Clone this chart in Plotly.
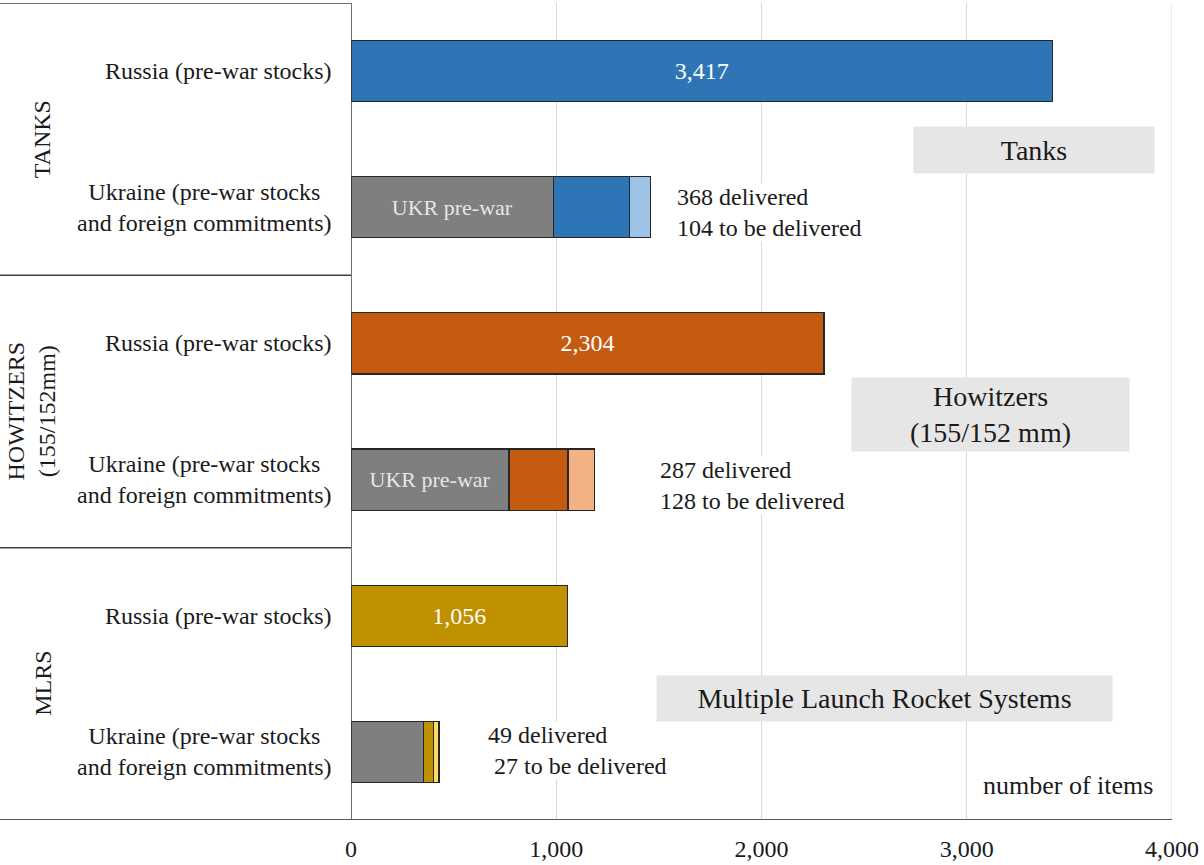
import plotly.graph_objects as go

# ---------------- data ----------------
groups = ["TANKS", "HOWITZERS<br>(155/152mm)", "MLRS"]
group_box_titles = ["Tanks", "Howitzers<br>(155/152 mm)", "Multiple Launch Rocket Systems"]
row_labels = ["Russia (pre-war stocks)", "Ukraine (pre-war stocks<br>and foreign commitments)"]
russia_stocks = [3417, 2304, 1056]
ukraine_prewar = [987, 770, 353]
ukraine_delivered = [368, 287, 49]
ukraine_pending = [104, 128, 27]
prewar_labels = ["UKR pre-war", "UKR pre-war", ""]
x_ticks = [0, 1000, 2000, 3000, 4000]
axis_title = "number of items"

# ---------------- style ----------------
FONT = "'Liberation Serif', 'Times New Roman', 'DejaVu Serif', serif"
TXT = "#1a1a1a"
main_colors = ["#2E75B6", "#C55A11", "#BF9000"]
light_colors = ["#9DC3E6", "#F4B183", "#FFD966"]
gray = "#7F7F7F"
outline = dict(color="#262626", width=1.2)

W, H = 1204, 865
ML, MR, MT, MB = 351, 32, 3, 43
plot_w = W - ML - MR
left_edge = -ML / plot_w

russia_rows = [2 * i for i in range(len(groups))]
ukraine_rows = [2 * i + 1 for i in range(len(groups))]

fig = go.Figure()

fig.add_trace(go.Bar(
    y=russia_rows, x=russia_stocks, orientation="h",
    marker=dict(color=main_colors, line=outline),
    text=[f"{v:,}" for v in russia_stocks], textposition="inside",
    insidetextanchor="middle",
    textfont=dict(family=FONT, size=24, color="white"),
    width=0.45, showlegend=False, hoverinfo="x",
))
fig.add_trace(go.Bar(
    y=ukraine_rows, x=ukraine_prewar, orientation="h",
    marker=dict(color=gray, line=outline),
    text=prewar_labels, textposition="inside", insidetextanchor="middle",
    textfont=dict(family=FONT, size=22, color="#E6E6E6"),
    width=0.45, showlegend=False, hoverinfo="x",
))
fig.add_trace(go.Bar(
    y=ukraine_rows, x=ukraine_delivered, orientation="h",
    marker=dict(color=main_colors, line=outline),
    width=0.45, showlegend=False, hoverinfo="x",
))
fig.add_trace(go.Bar(
    y=ukraine_rows, x=ukraine_pending, orientation="h",
    marker=dict(color=light_colors, line=outline),
    width=0.45, showlegend=False, hoverinfo="x",
))

annotations = []

# row labels (left side)
for i in range(len(groups)):
    for j, lab in enumerate(row_labels):
        annotations.append(dict(
            x=0, xref="paper", y=2 * i + j, yref="y", text=lab,
            xanchor="right", xshift=-17, align="center", showarrow=False,
            font=dict(family=FONT, size=24, color=TXT),
        ))

# group labels (rotated)
group_xshift = [-309, -320, -308]
for i, g in enumerate(groups):
    annotations.append(dict(
        x=0, xref="paper", y=2 * i + 0.5, yref="y", text=g,
        textangle=-90, xshift=group_xshift[i], xanchor="center", yanchor="middle",
        align="center", showarrow=False,
        font=dict(family=FONT, size=24, color=TXT),
    ))

# delivered / to be delivered notes
note_pos = [(1585, 1.04), (1500, 3.04), (665, 4.99)]
for i in range(len(groups)):
    pend = f"{ukraine_pending[i]} to be delivered"
    if i == 2:
        pend = "\u00a0" + pend
    annotations.append(dict(
        x=note_pos[i][0], y=note_pos[i][1], xref="x", yref="y",
        text=f"{ukraine_delivered[i]} delivered<br>{pend}",
        xanchor="left", yanchor="middle", align="left", showarrow=False,
        bgcolor="white", borderpad=0,
        font=dict(family=FONT, size=24, color=TXT),
    ))

# gray title boxes
box_specs = [(3327, 0.577, 240, 46), (3116, 2.522, 277, 73), (2597, 4.606, 455, 45)]
for i, t in enumerate(group_box_titles):
    bx, by, bw, bh = box_specs[i]
    annotations.append(dict(
        x=bx, y=by, xref="x", yref="y", text=t, showarrow=False,
        width=bw, height=bh, bgcolor="#E7E6E6", borderpad=0,
        align="center", valign="middle", xanchor="center", yanchor="middle",
        font=dict(family=FONT, size=28, color=TXT),
    ))

# axis unit label
annotations.append(dict(
    x=3915, y=5.25, xref="x", yref="y", text=axis_title, showarrow=False,
    xanchor="right", yanchor="middle",
    font=dict(family=FONT, size=26, color=TXT),
))

shapes = []
# gridline at the right edge (4,000)
shapes.append(dict(type="line", xref="x", yref="y", x0=x_ticks[-1], x1=x_ticks[-1],
                   y0=-0.5, y1=5.5, layer="below",
                   line=dict(color="#D9D9D9", width=1)))
# left panel separators
for yb in [-0.5, 1.5, 3.5]:
    shapes.append(dict(type="line", xref="paper", yref="y", x0=left_edge, x1=0,
                       y0=yb, y1=yb, line=dict(color="#404040", width=1.5)))
# bottom axis line across the whole width
shapes.append(dict(type="line", xref="paper", yref="y", x0=left_edge, x1=1,
                   y0=5.5, y1=5.5, line=dict(color="#595959", width=2)))
# vertical axis line at 0
shapes.append(dict(type="line", xref="x", yref="y", x0=0, x1=0,
                   y0=-0.5, y1=5.5, line=dict(color="#404040", width=1.5)))

fig.update_layout(
    width=W, height=H,
    margin=dict(l=ML, r=MR, t=MT, b=MB),
    barmode="stack",
    plot_bgcolor="white", paper_bgcolor="white",
    font=dict(family=FONT, size=24, color=TXT),
    annotations=annotations, shapes=shapes,
    xaxis=dict(range=[0, 4000], tickvals=x_ticks,
               ticktext=[f"{v:,}" for v in x_ticks],
               showgrid=True, gridcolor="#D9D9D9", gridwidth=1,
               zeroline=False, showline=False, ticks="",
               tickfont=dict(family=FONT, size=24, color=TXT),
               ticklabelstandoff=12, fixedrange=True),
    yaxis=dict(range=[5.5, -0.5], showticklabels=False, showgrid=False,
               zeroline=False, showline=False, ticks="", fixedrange=True),
)

fig.write_html(
    "out.html",
    config={"displayModeBar": False},
    post_script="document.body.style.margin='0';document.body.style.overflow='hidden';",
)
